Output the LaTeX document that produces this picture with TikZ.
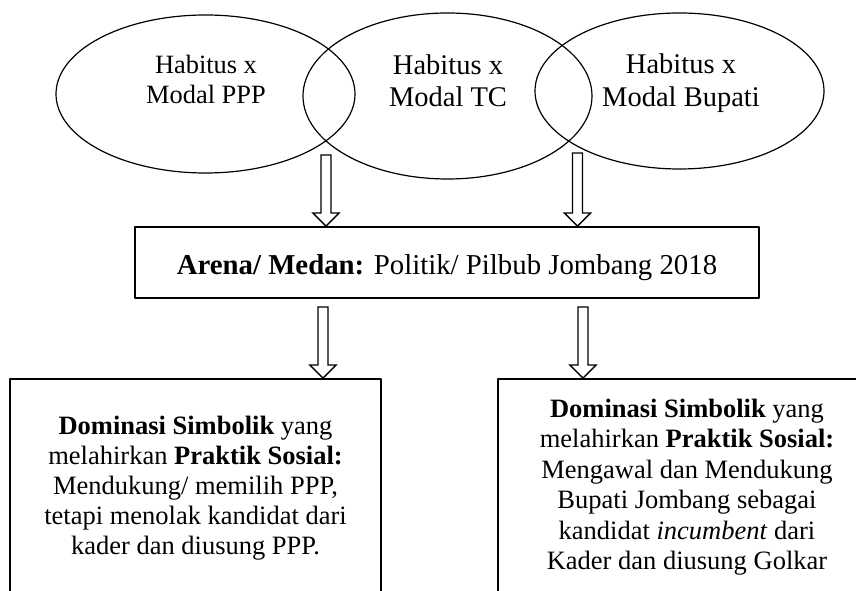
\documentclass[tikz,border=0pt]{standalone}
\usepackage{fontspec}
\setmainfont{Liberation Serif}
\usetikzlibrary{shapes,calc}

\newcommand{\hollowarrow}[2]{%
  \draw [line width=1.3bp, line join=miter] let \p1=(#1), \p2=(#2) in
    (\x1-5bp,\y1) -- (\x1+5bp,\y1) -- (\x1+5bp,\y2+13bp) -- (\x1+13bp,\y2+13bp)
    -- (\x1,\y2) -- (\x1-13bp,\y2+13bp) -- (\x1-5bp,\y2+13bp) -- cycle;}

\begin{document}
\begin{tikzpicture}[line join=bevel,
  habitus/.style={draw, ellipse, line width=1.2bp, inner sep=0pt},
  kotak/.style={draw, rectangle, line width=1.8bp, align=center, inner sep=0pt},
  teks/.style={align=center, font=\fontsize{26.5bp}{30bp}\selectfont}]
    \useasboundingbox (0bp,0bp) rectangle (856bp,591bp);
    %%
    \node (ppp) at (205.5bp,497bp) [habitus, minimum width=299bp, minimum height=158bp] {};
      \node (tc) at (447.5bp,495bp) [habitus, minimum width=289bp, minimum height=166bp] {};
      \node (bupati) at (679.5bp,500bp) [habitus, minimum width=289bp, minimum height=156bp] {};
      \node (ppp-txt) at (206bp,512bp) [teks, font=\fontsize{26.4bp}{30bp}\selectfont] {Habitus x\\Modal PPP};
      \node (tc-txt) at (448bp,510bp) [teks, font=\fontsize{28.5bp}{32bp}\selectfont] {Habitus x\\Modal TC};
      \node (bupati-txt) at (681bp,508bp) [teks, font=\fontsize{28.5bp}{33bp}\selectfont] {Habitus x\\Modal Bupati};
    %
    \node (arena) at (447bp,328.5bp) [kotak, teks, font=\fontsize{28.8bp}{32bp}\selectfont, text height=24bp, text depth=0bp, minimum width=624bp, minimum height=71bp] {\textbf{Arena/ Medan:} Politik/ Pilbub Jombang 2018};
    \node (domL) at (195.5bp,103bp) [kotak, teks, minimum width=371bp, minimum height=218bp] {\textbf{Dominasi Simbolik} yang\\melahirkan \textbf{Praktik Sosial:}\\Mendukung/ memilih PPP,\\tetapi menolak kandidat dari\\kader dan diusung PPP.};
    \node (domR) at (687bp,104bp) [kotak, teks, font=\fontsize{26.5bp}{30.5bp}\selectfont, minimum width=378bp, minimum height=216bp] {\textbf{Dominasi Simbolik} yang\\melahirkan \textbf{Praktik Sosial:}\\Mengawal dan Mendukung\\Bupati Jombang sebagai\\kandidat \textit{incumbent} dari\\Kader dan diusung Golkar};
    %
    \coordinate (ppp-a) at (326bp,436bp);
    \coordinate (bupati-a) at (577.5bp,438bp);
    \coordinate (domL-a) at (323bp,284bp);
    \coordinate (domR-a) at (583bp,284bp);
    \hollowarrow{ppp-a}{ppp-a |- arena.north}
    \hollowarrow{bupati-a}{bupati-a |- arena.north}
    \hollowarrow{domL-a}{domL-a |- domL.north}
    \hollowarrow{domR-a}{domR-a |- domR.north}
    %
\end{tikzpicture}
\end{document}
